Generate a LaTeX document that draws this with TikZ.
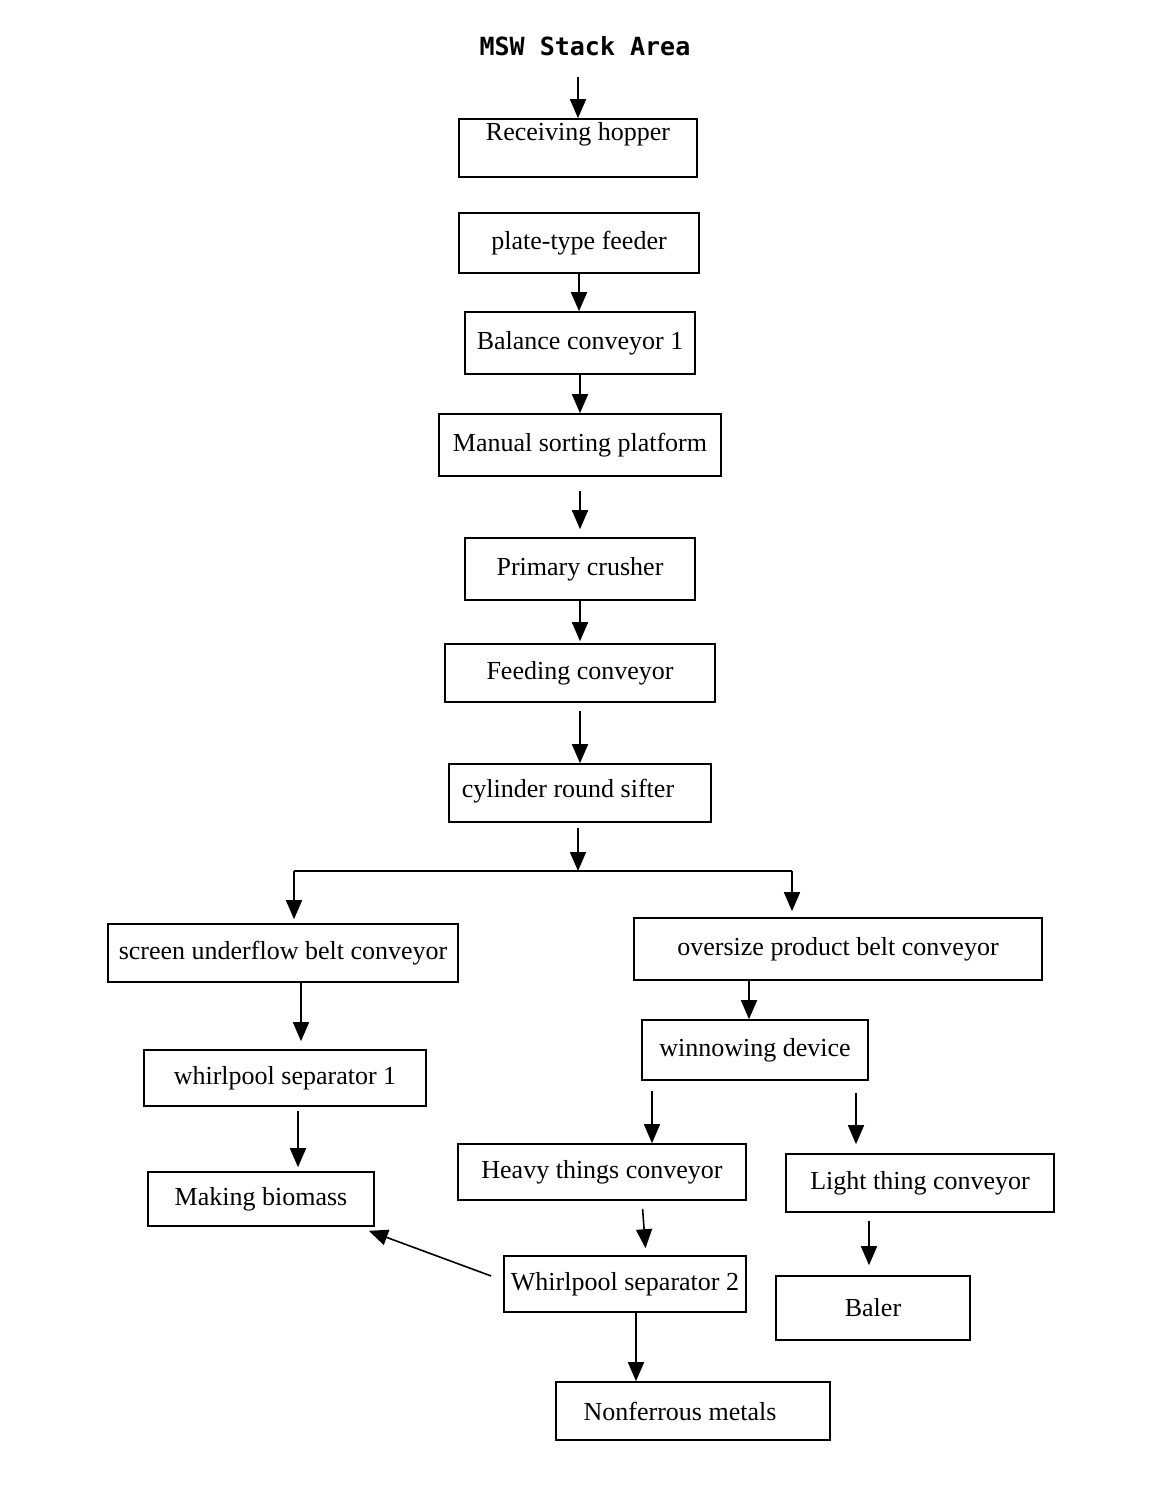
\documentclass[tikz,border=0pt]{standalone}
\usepackage{fontspec}
\setmainfont{Liberation Serif}
\newfontfamily\titlefont{DejaVu Sans Mono}
\usetikzlibrary{arrows.meta}
\tikzset{
  box/.style={draw, line width=1.6pt, inner sep=0pt, font=\fontsize{26}{30}\selectfont},
  txt/.style={inner sep=0pt, font=\fontsize{26}{30}\selectfont},
  arr/.style={line width=1.6pt, -{Triangle[length=19pt,width=16pt]}},
  ln/.style={line width=1.6pt}
}
\begin{document}
\begin{tikzpicture}[x=1pt,y=-1pt]
\useasboundingbox (0,0) rectangle (1160,1487);
\node[inner sep=0pt, font=\titlefont\bfseries\fontsize{25}{28}\selectfont] (title) at (585,46) {MSW Stack Area};

\node[box, minimum width=238pt, minimum height=58pt] (rh) at (578,148) {};
\node[txt] (rht) at (578,134) {Receiving hopper};
\node[box, minimum width=240pt, minimum height=60pt] (pf) at (579,243) {plate-type feeder};
\node[box, minimum width=230pt, minimum height=62pt] (bc) at (580,343) {Balance conveyor 1};
\node[box, minimum width=282pt, minimum height=62pt] (ms) at (580,445) {Manual sorting platform};
\node[box, minimum width=230pt, minimum height=62pt] (pc) at (580,569) {Primary crusher};
\node[box, minimum width=270pt, minimum height=58pt] (fc) at (580,673) {Feeding conveyor};
\node[box, minimum width=262pt, minimum height=58pt] (cs) at (580,793) {};
\node[txt] (cst) at (568,791) {cylinder round sifter};
\node[box, minimum width=350pt, minimum height=58pt] (su) at (283,953) {screen underflow belt conveyor};
\node[box, minimum width=408pt, minimum height=62pt] (op) at (838,949) {oversize product belt conveyor};
\node[box, minimum width=282pt, minimum height=56pt] (w1) at (285,1078) {whirlpool separator 1};
\node[box, minimum width=226pt, minimum height=60pt] (wd) at (755,1050) {winnowing device};
\node[box, minimum width=226pt, minimum height=54pt] (mb) at (261,1199) {Making biomass};
\node[box, minimum width=288pt, minimum height=56pt] (ht) at (602,1172) {Heavy things conveyor};
\node[box, minimum width=268pt, minimum height=58pt] (lt) at (920,1183) {Light thing conveyor};
\node[box, minimum width=242pt, minimum height=56pt] (w2) at (625,1284) {Whirlpool separator 2};
\node[box, minimum width=194pt, minimum height=64pt] (bl) at (873,1308) {Baler};
\node[box, minimum width=274pt, minimum height=58pt] (nm) at (693,1411) {};
\node[txt] (nmt) at (680,1411) {Nonferrous metals};

\coordinate (jc) at (578,871);
\coordinate (jl) at (294,871);
\coordinate (jr) at (792,871);

\draw[arr, shorten <=21pt] (title.south -| rh.north) -- (rh.north);
\draw[arr] (pf.south) -- (pf.south |- bc.north);
\draw[arr] (bc.south) -- (bc.south |- ms.north);
\draw[arr, shorten <=14pt, shorten >=8pt] (ms.south) -- (ms.south |- pc.north);
\draw[arr, shorten >=2pt] (pc.south) -- (pc.south |- fc.north);
\draw[arr, shorten <=8pt] (fc.south) -- (fc.south |- cs.north);
\draw[arr, shorten <=5pt] (cs.south -| jc) -- (jc);
\draw[ln] (jl) -- (jr);
\draw[arr, shorten >=4pt] (jl) -- (jl |- su.north);
\draw[arr, shorten >=6pt] (jr) -- (jr |- op.north);
\draw[arr, shorten >=8pt] ([xshift=18pt]su.south) -- ([xshift=18pt]su.south |- w1.north);
\draw[arr, shorten <=4pt, shorten >=4pt] ([xshift=13pt]w1.south) -- ([xshift=13pt]w1.south |- mb.north);
\draw[arr] ([xshift=-89pt]op.south) -- ([xshift=-89pt]op.south |- wd.north);
\draw[arr, shorten <=10pt] ([xshift=-103pt]wd.south) -- ([xshift=-103pt]wd.south |- ht.north);
\draw[arr, shorten <=12pt, shorten >=9pt] ([xshift=101pt]wd.south) -- ([xshift=101pt]wd.south |- lt.north);
\draw[arr, shorten <=8pt, shorten >=7pt] ([xshift=40pt]ht.south) -- ([xshift=21pt]w2.north);
\draw[arr] ([xshift=-12pt,yshift=8pt]w2.west) -- ([xshift=-6pt,yshift=-4pt]mb.south east);
\draw[arr] ([xshift=11pt]w2.south) -- ([xshift=11pt]w2.south |- nm.north);
\draw[arr, shorten <=8pt, shorten >=10pt] ([xshift=-51pt]lt.south) -- ([xshift=-51pt]lt.south |- bl.north);
\end{tikzpicture}
\end{document}
